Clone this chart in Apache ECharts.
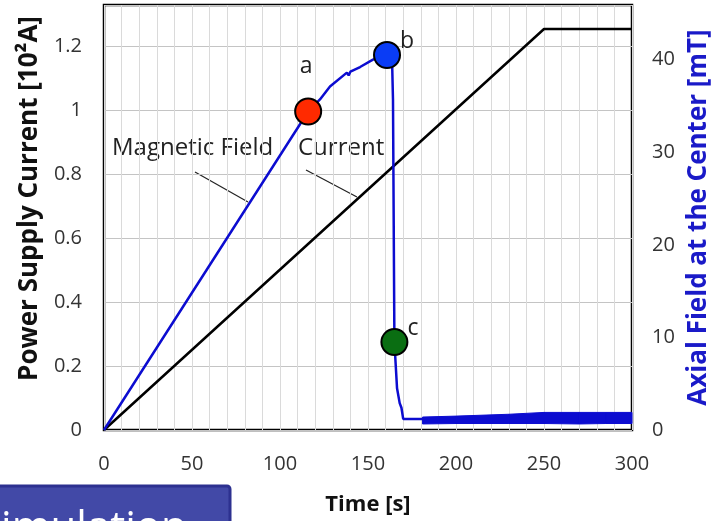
<!DOCTYPE html>
<html>
<head>
<meta charset="utf-8">
<script src="https://cdn.jsdelivr.net/npm/echarts@6/dist/echarts.min.js"></script>
<style>
  html, body { margin: 0; padding: 0; background: #fff; }
  #chart { width: 716px; height: 521px; }
</style>
</head>
<body>
<div id="chart"></div>
<script>
// magnetic field at the center [mT] vs time [s]
const fieldTime = [0, 116, 122.7, 128.4, 138, 139, 140, 145.5, 152.8, 160.8, 163.6, 164.2, 165, 166.5, 168, 169, 170, 181]
const fieldValues = [0, 34.4, 35.7, 37.1, 38.6, 38.3, 38.7, 39.2, 40.0, 40.5, 40.5, 35.7, 9.5, 4.5, 2.9, 2.4, 1.2, 1.2]
// noisy tail of the field, drawn as a band (low / high edges)
const bandTime = [181, 200, 230, 250, 270, 285, 300]
const bandLow = [0.65, 0.7, 0.7, 0.7, 0.65, 0.7, 0.7]
const bandHigh = [1.4, 1.5, 1.7, 1.9, 1.9, 1.9, 1.9]
// power supply current [10^2 A]
const currentTime = [0, 250, 300]
const currentValues = [0, 1.253, 1.253]
// points a, b, c on the field curve
const pointNames = ['a', 'b', 'c']
const pointTime = [116, 160.8, 165]
const pointField = [34.4, 40.5, 9.5]
const pointColors = ['#ff2a00', '#0a3cf5', '#0a6e12']

const dom = document.getElementById('chart')
const myChart = echarts.init(dom)
const font = '"Open Sans", "Noto Sans", sans-serif'
const blue = '#0c0cd0'

const fieldData = fieldTime.map((t, i) => [t, fieldValues[i]])
const bandData = bandTime.map((t, i) => [t, bandLow[i], bandHigh[i]])
const currentData = currentTime.map((t, i) => [t, currentValues[i]])
const points = pointTime.map((t, i) => ({
  value: [t, pointField[i]],
  name: pointNames[i],
  itemStyle: { color: pointColors[i] },
  label: i === 0 ? { position: 'top', distance: 20, offset: [-2, 0] } : {}
}))

// each segment of the band is a quad between item i and item i+1
function renderBand(params, api) {
  const i = params.dataIndex
  if (i >= bandData.length - 1) return null
  const a = bandData[i], b = bandData[i + 1]
  const pts = [
    api.coord([a[0], a[1]]), api.coord([b[0], b[1]]),
    api.coord([b[0], b[2]]), api.coord([a[0], a[2]])
  ]
  return {
    type: 'polygon',
    shape: { points: pts },
    style: { fill: blue, stroke: blue, lineWidth: 1 }
  }
}

const option = {
  animation: false,
  grid: {
    left: 104, right: 84, top: 5, bottom: 91,
    outerBoundsMode: 'none', containLabel: false,
    show: true, borderColor: '#000', borderWidth: 2.5, backgroundColor: 'transparent'
  },
  xAxis: {
    type: 'value', min: 0, max: 300, interval: 50,
    name: 'Time [s]', nameLocation: 'middle', nameGap: 64,
    nameTextStyle: { fontFamily: font, fontWeight: 'bold', fontSize: 22, color: '#111' },
    axisLine: { show: false }, axisTick: { show: false },
    axisLabel: { fontFamily: font, fontSize: 20, color: '#333', margin: 24 },
    splitLine: { show: true, lineStyle: { color: '#dadada', width: 1 } },
    minorTick: { show: false, splitNumber: 5 },
    minorSplitLine: { show: true, lineStyle: { color: '#dadada', width: 1 } }
  },
  yAxis: [
    {
      type: 'value', min: 0, max: 1.328, interval: 0.2,
      name: 'Power Supply Current [10²A]', nameLocation: 'middle', nameGap: 52, nameRotate: 90,
      nameTextStyle: { fontFamily: font, fontWeight: 'bold', fontSize: 26, color: '#111', padding: [0, 0, 0, 38] },
      axisLine: { show: false }, axisTick: { show: false },
      axisLabel: { fontFamily: font, fontSize: 20, color: '#333', margin: 22, showMaxLabel: false },
      splitLine: { show: true, lineStyle: { color: '#c4c4c4', width: 1.2 } }
    },
    {
      type: 'value', min: 0, max: 45.9, interval: 10, position: 'right',
      name: 'Axial Field at the Center [mT]', nameLocation: 'middle', nameGap: 54, nameRotate: 90,
      nameTextStyle: { fontFamily: font, fontWeight: 'bold', fontSize: 26, color: '#1a1ac8' },
      axisLine: { show: false }, axisTick: { show: false },
      axisLabel: { fontFamily: font, fontSize: 20, color: '#333', margin: 20, showMaxLabel: false },
      splitLine: { show: false }
    }
  ],
  series: [
    {
      name: 'Current', type: 'line', yAxisIndex: 0, data: currentData,
      showSymbol: false, lineStyle: { color: '#000', width: 2.5 }, z: 3
    },
    {
      name: 'Magnetic Field', type: 'line', yAxisIndex: 1, data: fieldData,
      showSymbol: false, lineStyle: { color: blue, width: 2.5 }, z: 4
    },
    {
      name: 'Field tail', type: 'custom', yAxisIndex: 1, data: bandData,
      encode: { x: 0, y: [1, 2] }, renderItem: renderBand, z: 4
    },
    {
      name: 'points', type: 'scatter', yAxisIndex: 1, data: points,
      symbolSize: 26, itemStyle: { borderColor: '#000', borderWidth: 2, opacity: 1 }, z: 6,
      label: {
        show: true, formatter: p => p.name, fontFamily: font, fontSize: 23, color: '#222',
        position: 'right', offset: [-6, -14]
      }
    }
  ],
  graphic: [
    { type: 'text', left: 112, top: 136, style: { text: 'Magnetic Field', font: '24px ' + font, fill: '#222' } },
    { type: 'text', left: 298, top: 136, style: { text: 'Current', font: '24px ' + font, fill: '#222' } },
    { type: 'line', shape: { x1: 195, y1: 172, x2: 248, y2: 202 }, style: { stroke: '#222', lineWidth: 1.2 } },
    { type: 'line', shape: { x1: 306, y1: 170, x2: 357, y2: 197 }, style: { stroke: '#222', lineWidth: 1.2 } },
    {
      type: 'rect', shape: { x: -4, y: 486, width: 234, height: 50, r: 3 },
      style: { fill: '#4249a7', stroke: '#2d3190', lineWidth: 3 }
    },
    { type: 'text', left: -22, top: 508, style: { text: 'Simulation', font: '42px ' + font, fill: '#fff' } }
  ]
}

myChart.setOption(option, true)
</script>
</body>
</html>
